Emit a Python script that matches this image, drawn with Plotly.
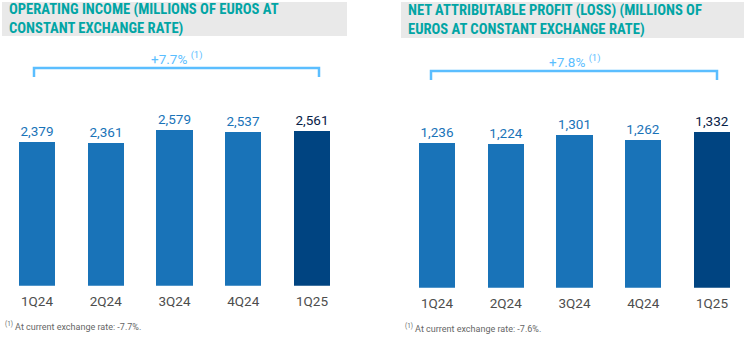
import plotly.graph_objects as go

W, H = 744, 343

categories = ["1Q24", "2Q24", "3Q24", "4Q24", "1Q25"]
operating_income = [2379, 2361, 2579, 2537, 2561]
net_profit = [1236, 1224, 1301, 1262, 1332]
op_labels = ["2,379", "2,361", "2,579", "2,537", "2,561"]
np_labels = ["1,236", "1,224", "1,301", "1,262", "1,332"]

title_left = "OPERATING INCOME (MILLIONS OF EUROS AT<br>CONSTANT EXCHANGE RATE)"
title_right = "NET ATTRIBUTABLE PROFIT (LOSS) (MILLIONS OF<br>EUROS AT CONSTANT EXCHANGE RATE)"
growth_left = "+7.7%"
growth_right = "+7.8%"
note_left = "At current exchange rate: -7.7%."
note_right = "At current exchange rate: -7.6%."

BLUE = "#1973B8"
NAVY = "#004481"
TEAL = "#02A5A5"
LIGHT = "#5BBEFF"
TXT_DARK = "#072146"

def px_x(p):
    return p / W

def px_y(p):
    return 1 - p / H

bar_colors = [BLUE] * 4 + [NAVY]
text_colors = [BLUE] * 4 + [TXT_DARK]

fig = go.Figure()
fig.add_trace(go.Bar(
    x=categories, y=operating_income, xaxis="x", yaxis="y",
    marker=dict(color=bar_colors, line=dict(width=0)), width=0.53,
    text=op_labels, textposition="outside", cliponaxis=False,
    textfont=dict(family="Roboto", size=13.5, color=text_colors),
    hoverinfo="skip",
))
fig.add_trace(go.Bar(
    x=categories, y=net_profit, xaxis="x2", yaxis="y2",
    marker=dict(color=bar_colors, line=dict(width=0)), width=0.53,
    text=np_labels, textposition="outside", cliponaxis=False,
    textfont=dict(family="Roboto", size=13.5, color=text_colors),
    hoverinfo="skip",
))

# left axes: centers 37..312 px, baseline 285.7 px, 0.0605 px/unit
l_x0, l_x1 = 2, 347
l_r0 = -(37 - l_x0) / 68.75
l_r1 = l_r0 + (l_x1 - l_x0) / 68.75
l_base, l_top = 285.7, 60
l_ymax = (l_base - l_top) / 0.0605

r_x0, r_x1 = 401, 744
r_r0 = -(437 - r_x0) / 68.75
r_r1 = r_r0 + (r_x1 - r_x0) / 68.75
r_base, r_top = 287.7, 60
r_ymax = (r_base - r_top) / 0.117

axis_common = dict(showgrid=False, zeroline=False, showline=False, ticks="",
                   ticklabelstandoff=6,
                   tickfont=dict(family="Roboto", size=13.5, color="#4D4D4D"),
                   fixedrange=True)

fig.update_layout(
    width=W, height=H, margin=dict(l=0, r=0, t=0, b=0),
    paper_bgcolor="white", plot_bgcolor="white", showlegend=False,
    bargap=0,
    xaxis=dict(domain=[px_x(l_x0), px_x(l_x1)], range=[l_r0, l_r1], anchor="y", **axis_common),
    yaxis=dict(domain=[px_y(l_base), px_y(l_top)], range=[0, l_ymax], visible=False, anchor="x"),
    xaxis2=dict(domain=[px_x(r_x0), px_x(r_x1)], range=[r_r0, r_r1], anchor="y2", **axis_common),
    yaxis2=dict(domain=[px_y(r_base), px_y(r_top)], range=[0, r_ymax], visible=False, anchor="x2"),
)

shapes = []
annotations = []

# title boxes
for (x0, x1, y0, y1, t) in [(2, 347, 2, 36, title_left), (401, 744, 2, 38, title_right)]:
    shapes.append(dict(type="rect", xref="paper", yref="paper",
                       x0=px_x(x0), x1=px_x(x1), y0=px_y(y1), y1=px_y(y0),
                       fillcolor="#E9E9E9", line=dict(width=0), layer="below"))
    annotations.append(dict(xref="paper", yref="paper", x=px_x(x0 + 5), y=px_y((y0 + y1) / 2),
                            xanchor="left", yanchor="middle", align="left", showarrow=False,
                            text="<b>" + t + "</b>",
                            font=dict(family="Liberation Sans Narrow, Roboto Condensed, Arial Narrow, sans-serif",
                                      size=14.6, color=TEAL)))

# brackets
for (bx0, bx1, by0, by1, g) in [(34, 319, 68, 77, growth_left), (431, 717, 71, 80, growth_right)]:
    shapes.append(dict(type="path", xref="paper", yref="paper",
                       path=f"M {px_x(bx0)},{px_y(by1)} L {px_x(bx0)},{px_y(by0)} L {px_x(bx1)},{px_y(by0)} L {px_x(bx1)},{px_y(by1)}",
                       line=dict(color=LIGHT, width=2.5)))
    annotations.append(dict(xref="paper", yref="paper", x=px_x((bx0 + bx1) / 2), y=px_y(by0 - 10),
                            xanchor="center", yanchor="middle", showarrow=False,
                            text=g + " <sup>(1)</sup>",
                            font=dict(family="Roboto", size=13.5, color=LIGHT)))

# footnotes
for (fx, fy, t) in [(3, 326, note_left), (403, 327.5, note_right)]:
    annotations.append(dict(xref="paper", yref="paper", x=px_x(fx), y=px_y(fy),
                            xanchor="left", yanchor="middle", showarrow=False,
                            text="<sup>(1)</sup> " + t,
                            font=dict(family="Roboto", size=9, color="#666666")))

fig.update_layout(shapes=shapes, annotations=annotations)
fig.write_html("out.html")
